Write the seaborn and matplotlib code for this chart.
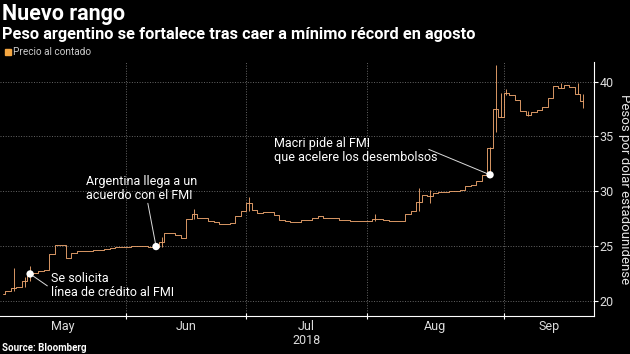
import numpy as np
import pandas as pd
import seaborn as sns
import matplotlib.pyplot as plt
import matplotlib.patches as mpatches
import matplotlib.transforms as mtransforms

# daily closes, pesos per USD (one bar per trading day)
close = [20.65, 20.9, 21.2, 21.3, 21.8, 22.45, 22.5, 22.7, 22.8, 24.3,
         25.05, 25.05, 23.9, 24.35, 24.5, 24.5, 24.5, 24.6, 24.65, 24.75,
         24.85, 24.9, 24.95, 24.95, 25.0, 25.0, 25.0, 24.95, 24.95, 25.4,
         26.2, 26.2, 26.0, 25.7, 27.5, 27.9, 27.6, 27.6, 27.3, 27.2,
         27.0, 27.0, 27.1, 27.7, 28.2, 28.9, 28.3, 28.0, 28.1, 28.1,
         27.8, 27.4, 27.3, 27.2, 27.2, 27.35, 27.4, 27.6, 27.7, 27.6,
         27.6, 27.6, 27.4, 27.4, 27.3, 27.3, 27.3, 27.25, 27.5, 27.45,
         27.4, 27.3, 27.3, 27.25, 27.9, 28.2, 29.0, 29.7, 29.55, 29.85,
         29.9, 29.9, 30.0, 30.0, 30.15, 30.45, 30.6, 30.9, 31.5, 33.9,
         37.5, 36.8, 39.0, 38.8, 38.3, 37.3, 37.0, 37.2, 37.4, 37.7,
         38.5, 39.6, 39.4, 39.7, 39.5, 38.9, 38.2]

# intraday ranges that stick out of the step line
spike_day = [2, 4, 5, 29, 35, 45, 68, 76, 78, 89, 90, 91, 92, 96, 102, 105, 106]
spike_low = [20.9, 21.3, 21.8, 24.95, 27.5, 28.2, 27.25, 28.2, 28.9, 31.5, 35.4, 36.8, 38.8, 36.9, 39.4, 38.9, 37.6]
spike_high = [23.0, 22.2, 23.2, 25.8, 28.4, 29.5, 27.9, 30.3, 30.1, 34.0, 41.5, 39.0, 39.3, 37.3, 39.85, 39.85, 38.9]

months = ['May', 'Jun', 'Jul', 'Aug', 'Sep']
month_edges = [-0.5, 22.5, 44.5, 66.5, 91.5, 108]
yticks = [20, 25, 30, 35, 40]

events = ['Se solicita\nlínea de crédito al FMI',
          'Argentina llega a un\nacuerdo con el FMI',
          'Macri pide al FMI\nque acelere los desembolsos']
event_day = [5, 28, 89]
event_val = [22.45, 24.95, 31.5]
label_pos = [(8.9, 21.36), (15.2, 30.23), (49.6, 33.68)]
leader_end = [(8.15, 21.36), (26.5, 28.9), (77.8, 33.82)]

df = pd.DataFrame({'day': np.arange(len(close)), 'close': close})

sns.set_theme(style='dark')
plt.rcParams['font.family'] = ['Roboto', 'DejaVu Sans']
line_col = '#e8a26c'

fig = plt.figure(figsize=(6.3, 3.54), dpi=100, facecolor='black')
ax = fig.add_axes([0, 0.107, 0.943, 0.718])
ax.set_facecolor('black')

sns.lineplot(data=df, x='day', y='close', drawstyle='steps-mid', color=line_col, linewidth=0.65, ax=ax)
ax.vlines(spike_day, spike_low, spike_high, color=line_col, linewidth=0.65)

# annotations
for txt, d, v, (tx, ty), (lx, ly) in zip(events, event_day, event_val, label_pos, leader_end):
    ax.plot([lx, d], [ly, v], color='#dddddd', linewidth=0.7, zorder=4)
    ax.text(tx, ty, txt, color='white', fontsize=9, ha='left', va='center', linespacing=1.1)
sns.scatterplot(x=event_day, y=event_val, color='white', s=28, edgecolor='none', zorder=5, ax=ax)

ax.set_xlim(month_edges[0], month_edges[-1])
ax.set_ylim(18.6, 41.8)

# grid
for e in month_edges[1:-1]:
    ax.axvline(e, color='#666666', linestyle=':', linewidth=0.7, zorder=0)
for t in yticks:
    ax.axhline(t, color='#666666', linestyle=':', linewidth=0.7, zorder=0)

ax.set_xticks(month_edges[1:-1])
ax.set_xticklabels([])
ax.tick_params(axis='x', which='major', direction='inout', length=4, color='white', width=0.8, bottom=True)
mids = [(a + b) / 2 for a, b in zip(month_edges[:-1], month_edges[1:])]
ax.set_xticks(mids, minor=True)
ax.set_xticklabels(months, minor=True)
ax.tick_params(axis='x', which='minor', length=0, labelcolor='#dddddd', labelsize=9, pad=3)
trans = mtransforms.blended_transform_factory(ax.transData, ax.transAxes)
ax.text(mids[2], -0.094, '2018', transform=trans, color='#dddddd', fontsize=9, ha='center', va='center')

ax.yaxis.tick_right()
ax.yaxis.set_label_position('right')
ax.set_yticks(yticks)
ax.tick_params(axis='y', direction='out', length=3, color='white', width=0.8, labelcolor='#dddddd', labelsize=9, pad=1, right=True)
ax.set_ylabel('Pesos por dólar estadounidense', color='#e6e6e6', fontsize=9.5, rotation=270, labelpad=12)
ax.set_xlabel('')

for s in ['top', 'left']:
    ax.spines[s].set_visible(False)
for s in ['bottom', 'right']:
    ax.spines[s].set_visible(True)
    ax.spines[s].set_color('white')
    ax.spines[s].set_linewidth(0.8)

fig.text(2 / 630, 1 - 14 / 354, 'Nuevo rango', color='white', fontsize=15.5, fontweight='bold', va='center')
fig.text(2 / 630, 1 - 34 / 354, 'Peso argentino se fortalece tras caer a mínimo récord en agosto',
         color='white', fontsize=11.8, fontweight='bold', va='center')
fig.patches.append(mpatches.Rectangle((5 / 630, 1 - 55 / 354), 6 / 630, 6 / 354, color='#f5a742',
                                      transform=fig.transFigure, figure=fig))
fig.text(13 / 630, 1 - 52 / 354, 'Precio al contado', color='#cccccc', fontsize=7.2, va='center')
fig.text(2 / 630, 1 - 348 / 354, 'Source: Bloomberg', color='white', fontsize=7, fontweight='bold', va='center')

fig.savefig('out.png', dpi=100, facecolor='black')
